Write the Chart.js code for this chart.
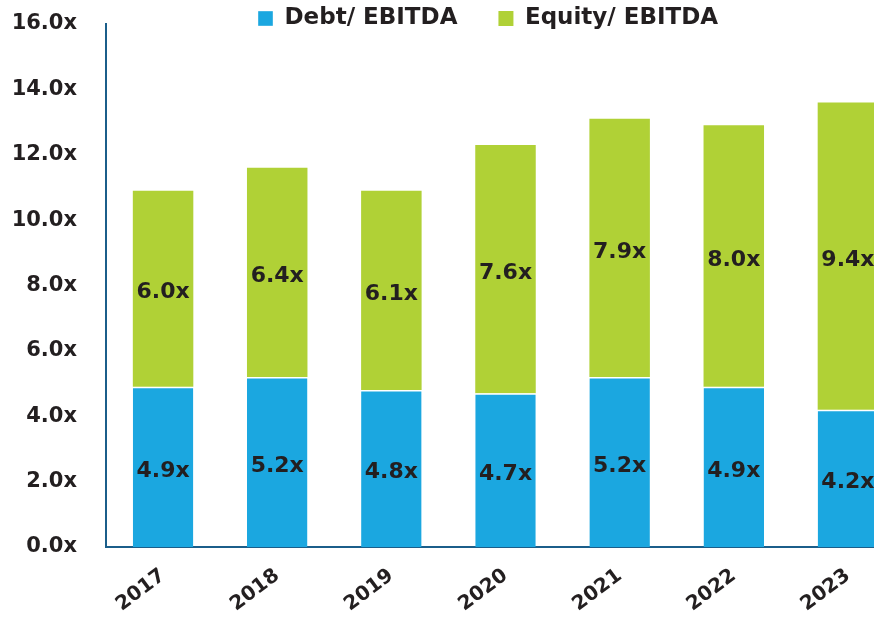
<!DOCTYPE html>
<html>
<head>
<meta charset="utf-8">
<script src="https://cdn.jsdelivr.net/npm/chart.js@4.4.1/dist/chart.umd.min.js"></script>
<style>
  html, body { margin: 0; padding: 0; background: #ffffff; overflow: hidden; }
  #wrap { width: 874px; height: 623px; overflow: hidden; position: relative; }
  #box { width: 905px; height: 623px; position: absolute; left: 0; top: 0; }
</style>
</head>
<body>
<div id="wrap"><div id="box"><canvas id="c"></canvas></div></div>
<script>
const years = ['2017', '2018', '2019', '2020', '2021', '2022', '2023'];
const debtToEbitda = [4.9, 5.2, 4.8, 4.7, 5.2, 4.9, 4.2];
const equityToEbitda = [6.0, 6.4, 6.1, 7.6, 7.9, 8.0, 9.4];
const seriesNames = ['Debt/ EBITDA', 'Equity/ EBITDA'];
const yTicks = [0, 2, 4, 6, 8, 10, 12, 14, 16];

const FONT = '"DejaVu Sans", Inter, sans-serif';
const TEXT = '#231f20';
const AXIS = '#1b5e8a';

const layoutHack = {
  id: 'layoutHack',
  beforeLayout(chart) {
    const lg = chart.legend;
    if (lg && !lg._patched) {
      lg._patched = true;
      const origFit = lg.fit;
      lg.fit = function () { origFit.apply(this, arguments); this.height = 24; };
    }
  },
  afterLayout(chart) {
    const lg = chart.legend;
    if (!lg) return;
    const pad = lg.options.labels.padding;
    const shiftX = 258 - pad - lg.left;
    lg.left += shiftX; lg.right += shiftX;
    lg.top = 18.5 - 11.5 - pad;
    lg.bottom = 40;
  }
};

const valueLabels = {
  id: 'valueLabels',
  afterDatasetsDraw(chart) {
    const ctx = chart.ctx;
    ctx.save();
    ctx.font = '700 22px ' + FONT;
    ctx.fillStyle = TEXT;
    ctx.textAlign = 'center';
    ctx.textBaseline = 'middle';
    chart.data.datasets.forEach((ds, i) => {
      const meta = chart.getDatasetMeta(i);
      meta.data.forEach((el, j) => {
        const p = el.getCenterPoint();
        ctx.fillText(ds.data[j].toFixed(1) + 'x', p.x, p.y + 4);
      });
    });
    ctx.restore();
  }
};

new Chart(document.getElementById('c'), {
  type: 'bar',
  data: {
    labels: years,
    datasets: [
      { label: seriesNames[0], data: debtToEbitda, backgroundColor: '#1ba7e0',
        borderColor: '#ffffff', borderWidth: { top: 1.5, left: 0, right: 0, bottom: 0 }, borderSkipped: false },
      { label: seriesNames[1], data: equityToEbitda, backgroundColor: '#b0d136',
        borderColor: '#ffffff', borderWidth: 0 }
    ]
  },
  options: {
    responsive: true,
    maintainAspectRatio: false,
    animation: false,
    devicePixelRatio: 1,
    layout: { padding: 0 },
    datasets: { bar: { categoryPercentage: 1, barPercentage: 0.53 } },
    plugins: {
      legend: {
        position: 'top',
        align: 'start',
        labels: {
          boxWidth: 15, boxHeight: 15, padding: 41,
          color: TEXT,
          font: { family: FONT, size: 23, weight: '700' }
        }
      },
      tooltip: { enabled: false }
    },
    scales: {
      x: {
        stacked: true,
        grid: { display: false, drawTicks: false },
        border: { display: true, color: AXIS, width: 2 },
        afterFit: s => { s.height = 76; },
        ticks: {
          color: TEXT, minRotation: 37, maxRotation: 37, padding: 17,
          font: { family: FONT, size: 20, weight: '700' }
        }
      },
      y: {
        stacked: true,
        min: 0, max: 16,
        afterFit: s => { s.width = 106; s.paddingTop = 0; s.paddingBottom = 0; },
        afterBuildTicks: s => { s.ticks = yTicks.map(v => ({ value: v })); },
        grid: { display: false, drawTicks: false },
        border: { display: true, color: AXIS, width: 2 },
        ticks: {
          color: TEXT, padding: 29,
          font: { family: FONT, size: 21, weight: '700' },
          callback: v => Number(v).toFixed(1) + 'x'
        }
      }
    }
  },
  plugins: [layoutHack, valueLabels]
});
</script>
</body>
</html>
